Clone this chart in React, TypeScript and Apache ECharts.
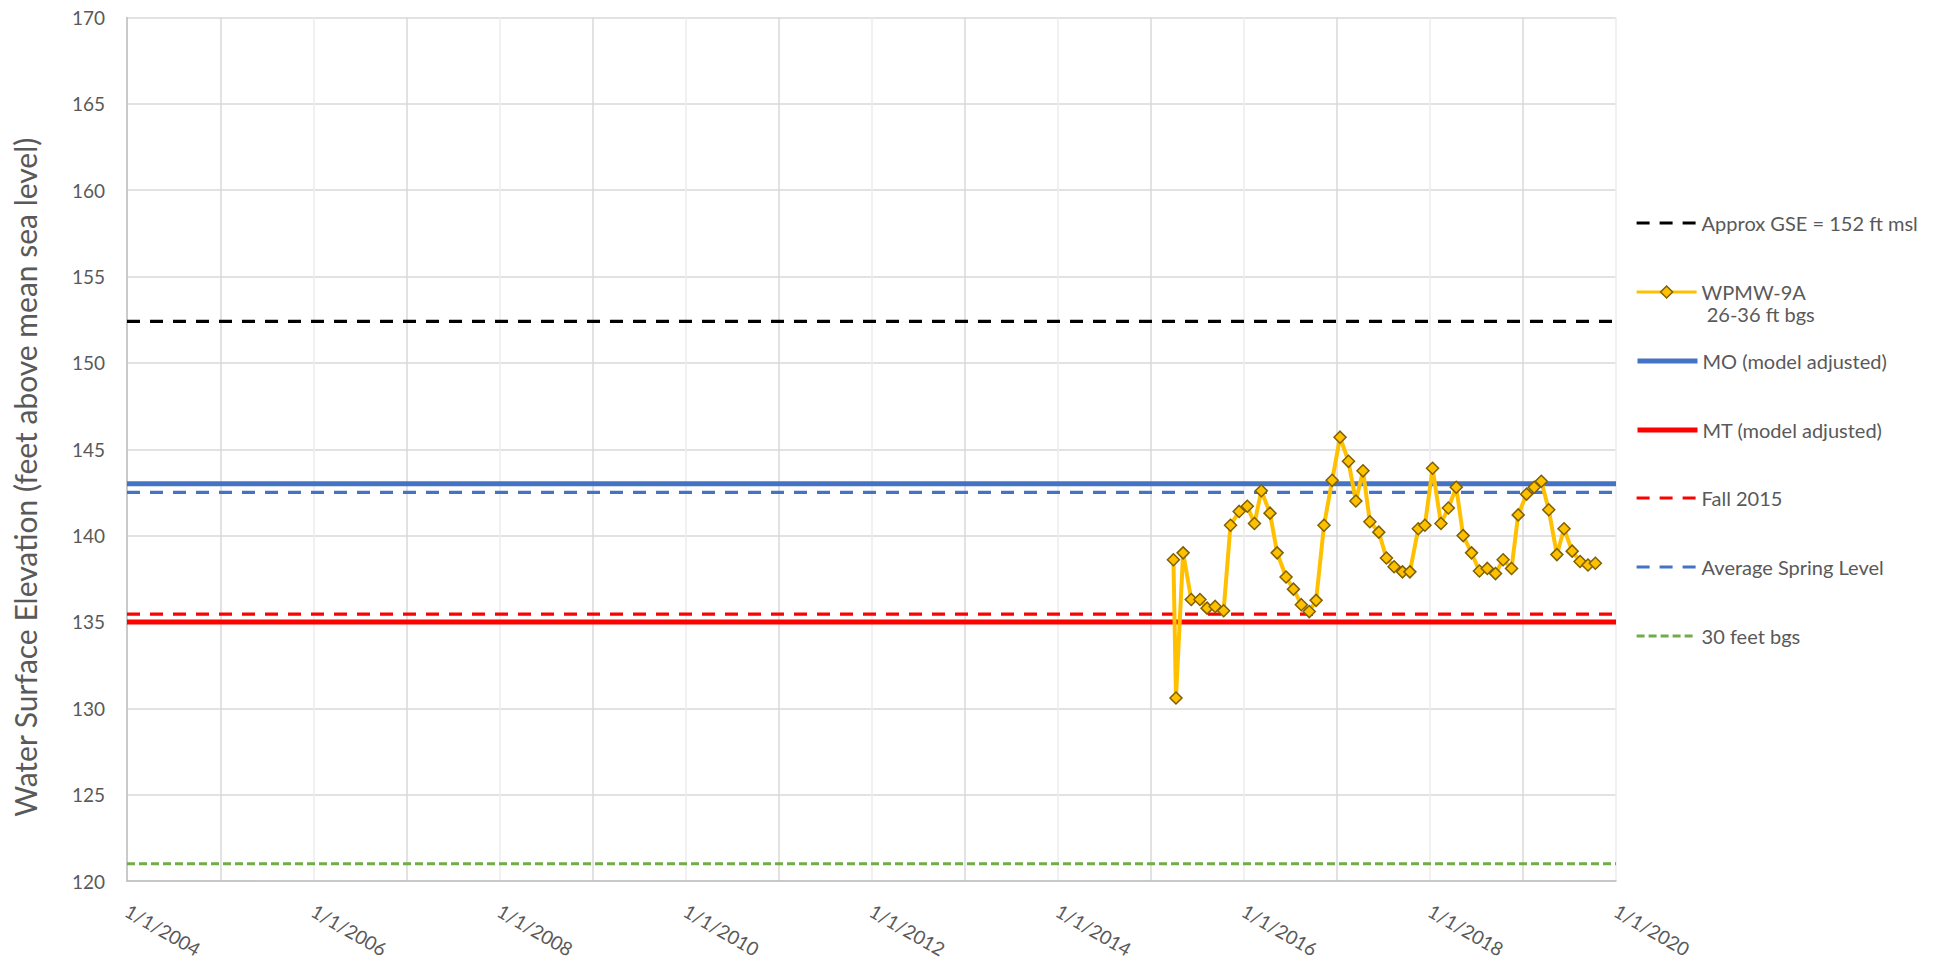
import React, { useEffect, useRef } from "react";
import * as echarts from "echarts";

// ---- Data ----
const xMin = "2004-01-01";
const xMax = "2020-01-01";
const yMin = 120;
const yMax = 170;
const yInterval = 5;

const sampleDates = [
  "2015-03-31", "2015-04-10", "2015-05-08", "2015-06-09", "2015-07-13", "2015-08-10",
  "2015-09-11", "2015-10-14", "2015-11-10", "2015-12-14", "2016-01-15", "2016-02-12",
  "2016-03-10", "2016-04-13", "2016-05-11", "2016-06-15", "2016-07-14", "2016-08-14",
  "2016-09-14", "2016-10-11", "2016-11-11", "2016-12-13", "2017-01-13", "2017-02-15",
  "2017-03-16", "2017-04-13", "2017-05-10", "2017-06-14", "2017-07-14", "2017-08-13",
  "2017-09-15", "2017-10-14", "2017-11-16", "2017-12-12", "2018-01-11", "2018-02-13",
  "2018-03-14", "2018-04-14", "2018-05-11", "2018-06-13", "2018-07-14", "2018-08-14",
  "2018-09-15", "2018-10-15", "2018-11-17", "2018-12-13", "2019-01-15", "2019-02-14",
  "2019-03-14", "2019-04-12", "2019-05-14", "2019-06-11", "2019-07-13", "2019-08-13",
  "2019-09-13", "2019-10-12",
];
const wpmwValues = [
  138.6, 130.6, 139.0, 136.3, 136.3, 135.8,
  135.9, 135.65, 140.6, 141.4, 141.7, 140.7,
  142.6, 141.3, 139.0, 137.6, 136.9, 136.0,
  135.6, 136.25, 140.6, 143.2, 145.7, 144.3,
  142.0, 143.75, 140.8, 140.2, 138.7, 138.2,
  137.9, 137.9, 140.4, 140.6, 143.9, 140.7,
  141.6, 142.8, 140.0, 139.0, 137.95, 138.1,
  137.8, 138.6, 138.1, 141.2, 142.4, 142.8,
  143.15, 141.5, 138.9, 140.4, 139.1, 138.5,
  138.3, 138.4,
];

const gseLevel = 152.4;
const moLevel = 143.0;
const mtLevel = 135.0;
const fall2015Level = 135.45;
const avgSpringLevel = 142.5;
const bgs30Level = 121.0;

const seriesNames = [
  "Approx GSE = 152 ft msl",
  "WPMW-9A",
  "MO (model adjusted)",
  "MT (model adjusted)",
  "Fall 2015",
  "Average Spring Level",
  "30 feet bgs",
];

const FONT = "Lato, 'Noto Sans', sans-serif";
const TXT = "#595959";

const lineWidths = [3.2, 4, 5, 5, 3.2, 3.2, 3.2];

function hline(name: string, level: number, color: string, width: number, type: any, z: number) {
  return {
    name,
    type: "line",
    data: [
      [xMin, level],
      [xMax, level],
    ],
    symbol: "none",
    lineStyle: { color, width, type },
    itemStyle: { color },
    z,
    silent: true,
  };
}

export default function App() {
  const ref = useRef<HTMLDivElement>(null);

  useEffect(() => {
    if (!ref.current) return;
    const chart = echarts.init(ref.current, undefined, { renderer: "svg" });

    const legendCenters = [223, 292, 361, 430, 498, 567, 636];
    const legends = seriesNames.map((name, i) => {
      const isW = name === "WPMW-9A";
      return {
        show: true,
        orient: "vertical",
        left: 1635,
        top: isW ? legendCenters[i] - 33 : legendCenters[i] - 11,
        padding: 0,
        itemWidth: 60,
        itemHeight: 15,
        selectedMode: false,
        data: [name],
        formatter: isW ? "\nWPMW-9A\n 26-36 ft bgs" : "{name}",
        itemStyle: isW
          ? { color: "#FFC000", borderColor: "#7F6000", borderWidth: 1.5 }
          : { opacity: 0 },
        lineStyle: { width: isW ? 3.2 : lineWidths[i] },
        textStyle: {
          fontFamily: FONT,
          fontSize: 20,
          color: TXT,
          lineHeight: 22,
        },
      };
    });

    chart.setOption({
      animation: false,
      backgroundColor: "#ffffff",
      grid: {
        left: 127,
        right: 326,
        top: 17.5,
        bottom: 83,
        containLabel: false,
        outerBoundsMode: "none",
      },
      legend: legends,
      xAxis: {
        type: "time",
        min: xMin,
        max: xMax,
        splitNumber: 16,
        minInterval: 365 * 86400000,
        maxInterval: 366 * 86400000,
        axisLine: { show: true, lineStyle: { color: "#BFBFBF", width: 1.5 } },
        axisTick: { show: false },
        splitLine: {
          show: true,
          lineStyle: { color: ["#D9D9D9", "#EDEDED"], width: 1.5 },
        },
        axisLabel: {
          interval: 0,
          rotate: -30,
          margin: 28,
          showMinLabel: true,
          showMaxLabel: true,
          hideOverlap: false,
          fontFamily: FONT,
          fontSize: 19,
          color: TXT,
          formatter: (val: number) => {
            const d = new Date(val);
            const y = d.getFullYear();
            if (y % 2 !== 0) return "";
            return `${d.getMonth() + 1}/${d.getDate()}/${y}`;
          },
        },
      },
      yAxis: {
        type: "value",
        min: yMin,
        max: yMax,
        interval: yInterval,
        name: "Water Surface Elevation (feet above mean sea level)",
        nameLocation: "middle",
        nameGap: 87,
        nameTextStyle: {
          fontFamily: FONT,
          fontSize: 30,
          color: TXT,
          padding: [0, 56, 0, 0],
        },
        axisLine: { show: true, lineStyle: { color: "#BFBFBF", width: 1.5 } },
        axisTick: { show: false },
        splitLine: { show: true, lineStyle: { color: "#D9D9D9", width: 1.5 } },
        axisLabel: {
          margin: 22,
          fontFamily: FONT,
          fontSize: 19,
          color: TXT,
        },
      },
      series: [
        hline(seriesNames[0], gseLevel, "#000000", lineWidths[0], [13, 10], 2),
        {
          name: seriesNames[1],
          type: "line",
          data: sampleDates.map((d, i) => [d, wpmwValues[i]]),
          symbol: "diamond",
          symbolSize: 12,
          showAllSymbol: true,
          lineStyle: { color: "#FFC000", width: lineWidths[1] },
          itemStyle: { color: "#FFC000", borderColor: "#7F6000", borderWidth: 1.5 },
          z: 10,
        },
        hline(seriesNames[2], moLevel, "#4472C4", lineWidths[2], "solid", 3),
        hline(seriesNames[3], mtLevel, "#FF0000", lineWidths[3], "solid", 3),
        hline(seriesNames[4], fall2015Level, "#FF0000", lineWidths[4], [13, 10], 4),
        hline(seriesNames[5], avgSpringLevel, "#4472C4", lineWidths[5], [13, 10], 4),
        hline(seriesNames[6], bgs30Level, "#70AD47", lineWidths[6], [8, 4], 4),
      ],
    });

    return () => chart.dispose();
  }, []);

  return (
    <div
      ref={ref}
      style={{ position: "fixed", left: 0, top: 0, width: 1942, height: 964 }}
    />
  );
}
